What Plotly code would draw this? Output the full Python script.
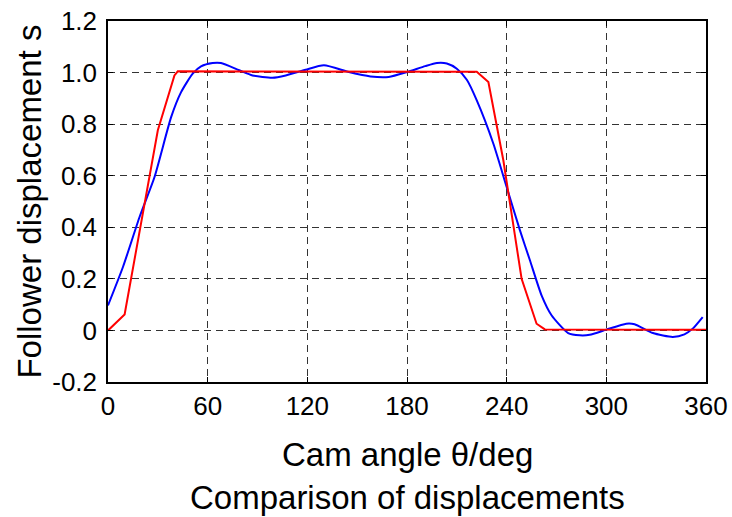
import plotly.graph_objects as go

# Red: piecewise (actual) displacement
red_x = [0, 10, 30, 40, 42, 222, 229, 238, 249, 258, 263, 360]
red_y = [0.0, 0.062, 0.776, 0.989, 1.005, 1.003, 0.963, 0.66, 0.2, 0.026, 0.004, 0.003]

# Blue: fitted (smooth) displacement
blue_x = [0, 9, 19, 28, 38, 44, 51, 56, 63, 68, 79, 87, 99, 107, 119, 130, 145, 158, 169,
          180, 191, 198, 204, 210, 216, 222, 232, 240, 248, 254, 261, 267, 277, 284, 290,
          300, 312, 317, 328, 340, 347, 352, 358]
blue_y = [0.097, 0.246, 0.44, 0.595, 0.827, 0.924, 0.996, 1.024, 1.037, 1.037, 1.009, 0.989,
          0.98, 0.989, 1.011, 1.028, 1.002, 0.985, 0.983, 1.002, 1.025, 1.037, 1.035, 1.015,
          0.972, 0.892, 0.724, 0.556, 0.388, 0.272, 0.136, 0.059, -0.01, -0.019, -0.017,
          0.003, 0.026, 0.024, -0.01, -0.025, -0.015, 0.007, 0.052]

x_ticks = [0, 60, 120, 180, 240, 300, 360]
y_ticks = [-0.2, 0, 0.2, 0.4, 0.6, 0.8, 1.0, 1.2]
y_ticktext = ["-0.2", "0", "0.2", "0.4", "0.6", "0.8", "1.0", "1.2"]

fig = go.Figure()
fig.add_trace(go.Scatter(x=blue_x, y=blue_y, mode="lines",
                         line=dict(color="#0000ff", width=2, shape="spline", smoothing=0.6),
                         showlegend=False))
fig.add_trace(go.Scatter(x=red_x, y=red_y, mode="lines",
                         line=dict(color="#ff0000", width=2),
                         showlegend=False))

font_family = "Liberation Sans, Arial, sans-serif"
axis_common = dict(ticks="inside", ticklen=5, tickcolor="black", showline=True,
                   linecolor="black", linewidth=1.5, mirror="ticks", showgrid=True,
                   gridcolor="#333333", griddash="7px,5px", gridwidth=1, zeroline=False,
                   tickfont=dict(size=26), automargin=False)
fig.update_layout(
    width=732, height=517,
    margin=dict(l=108, r=26, t=21, b=135),
    paper_bgcolor="white", plot_bgcolor="white",
    font=dict(family=font_family, color="black", size=26),
    xaxis=dict(range=[0, 360], tickvals=x_ticks, ticklabelstandoff=0, **axis_common),
    yaxis=dict(range=[-0.2, 1.2], tickvals=y_ticks, ticktext=y_ticktext, ticklabelstandoff=4,
               **axis_common),
    annotations=[
        dict(text="Cam angle θ/deg", x=0.5, y=-0.202, xref="paper", yref="paper",
             showarrow=False, xanchor="center", yanchor="middle", font=dict(size=33)),
        dict(text="Comparison of displacements", x=0.5, y=-0.319, xref="paper", yref="paper",
             showarrow=False, xanchor="center", yanchor="middle", font=dict(size=33)),
        dict(text="Follower displacement s", x=-0.132, y=0.5, xref="paper", yref="paper",
             showarrow=False, xanchor="center", yanchor="middle", textangle=-90,
             font=dict(size=33)),
    ],
)

fig.write_html("out.html")
